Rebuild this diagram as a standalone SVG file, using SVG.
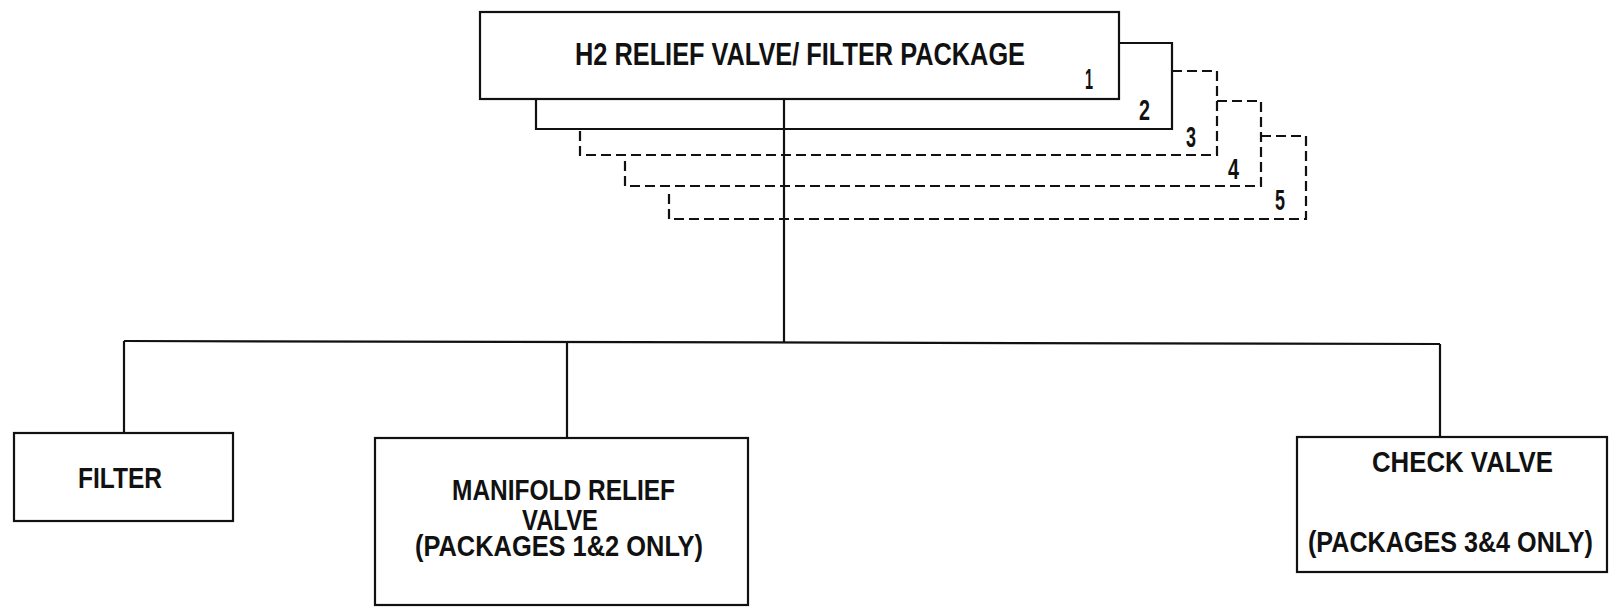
<svg xmlns="http://www.w3.org/2000/svg" width="1614" height="611" viewBox="0 0 1614 611">
<style>
.box{fill:#fff;stroke:#111;stroke-width:2.2}
.ln{fill:none;stroke:#111;stroke-width:2.2}
.dash{fill:none;stroke:#111;stroke-width:2.2;stroke-dasharray:10 5}
.t{font-family:"Liberation Sans","DejaVu Sans",sans-serif;font-weight:bold;font-size:29px;fill:#111}
.tt{font-size:31px}
</style>
<rect width="1614" height="611" fill="#fff"/>
<g id="package-stack">
<path class="dash" d="M1261,136 H1306 V219 H669 V192"/>
<path class="dash" d="M1217,101 H1261 V186 H625 V160"/>
<path class="dash" d="M1172,71 H1217 V155 H580 V128"/>
<path class="ln" d="M1119,43 H1172 V129 H536 V99"/>
<text class="t" x="1139" y="120" textLength="11" lengthAdjust="spacingAndGlyphs">2</text>
<text class="t" x="1186" y="147" textLength="10" lengthAdjust="spacingAndGlyphs">3</text>
<text class="t" x="1228" y="179" textLength="11" lengthAdjust="spacingAndGlyphs">4</text>
<text class="t" x="1275" y="210" textLength="10" lengthAdjust="spacingAndGlyphs">5</text>
</g>
<g id="main">
<rect class="box" x="480" y="12" width="639" height="87"/>
<text class="t tt" x="575" y="65" textLength="450" lengthAdjust="spacingAndGlyphs">H2 RELIEF VALVE/ FILTER PACKAGE</text>
<text class="t" x="1085" y="89" textLength="8" lengthAdjust="spacingAndGlyphs">1</text>
</g>
<g id="connectors">
<path class="ln" d="M784,99 V342"/>
<path class="ln" d="M124,341 L1440,344"/>
<path class="ln" d="M124,341 V433"/>
<path class="ln" d="M567,342 V438"/>
<path class="ln" d="M1440,344 V437"/>
</g>
<g id="filter">
<rect class="box" x="14" y="433" width="219" height="88"/>
<text class="t" x="78" y="488" textLength="84" lengthAdjust="spacingAndGlyphs">FILTER</text>
</g>
<g id="manifold-relief-valve">
<rect class="box" x="375" y="438" width="373" height="167"/>
<text class="t" x="452" y="500" textLength="223" lengthAdjust="spacingAndGlyphs">MANIFOLD RELIEF</text>
<text class="t" x="522" y="530" textLength="76" lengthAdjust="spacingAndGlyphs">VALVE</text>
<text class="t" x="415" y="556" textLength="288" lengthAdjust="spacingAndGlyphs">(PACKAGES 1&amp;2 ONLY)</text>
</g>
<g id="check-valve">
<rect class="box" x="1297" y="437" width="310" height="135"/>
<text class="t" x="1372" y="472" textLength="181" lengthAdjust="spacingAndGlyphs">CHECK VALVE</text>
<text class="t" x="1308" y="552" textLength="285" lengthAdjust="spacingAndGlyphs">(PACKAGES 3&amp;4 ONLY)</text>
</g>
</svg>
